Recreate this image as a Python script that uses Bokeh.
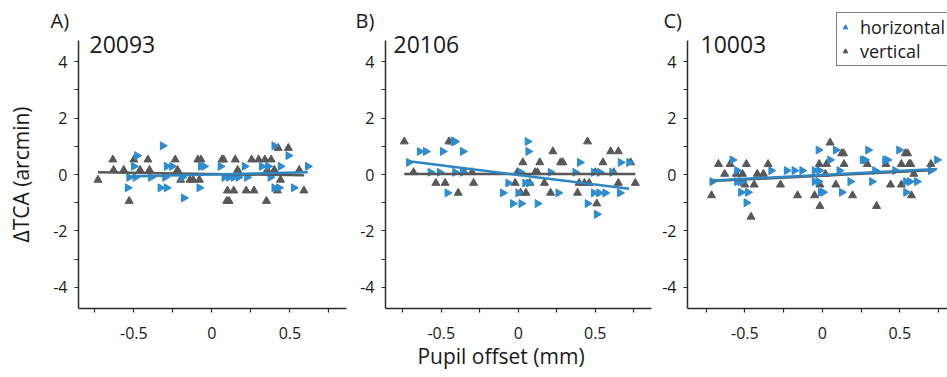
import numpy as np
from bokeh.plotting import figure
from bokeh.models import Range1d, FixedTicker, Label, Legend, LegendItem
from bokeh.layouts import row
from bokeh.embed import file_html
from bokeh.resources import INLINE

# ---------------- data ----------------
panel_letters = ["A)", "B)", "C)"]
subject_ids = ["20093", "20106", "10003"]
series_names = ["horizontal", "vertical"]

x_major = [-0.5, 0, 0.5]
x_minor = [-0.75, -0.25, 0.25, 0.75]
y_major = [-4, -2, 0, 2, 4]
y_minor = [-3, -1, 1, 3]
x_tick_labels = {-0.5: "-0.5", 0: "0", 0.5: "0.5"}
y_tick_labels = {-4: "-4", -2: "-2", 0: "0", 2: "2", 4: "4"}

# Panel A (20093)
a_horz_x = [-0.315, -0.48, -0.50, -0.54, -0.53, -0.49, -0.39, -0.33, -0.29, -0.29, -0.255, -0.30, -0.18,
            -0.07, -0.05, -0.08, 0.055, 0.08, 0.11, 0.14, 0.21, 0.225, 0.32, 0.36, 0.375, 0.40, 0.49,
            0.40, 0.43, 0.44, 0.525, 0.615, -0.19, 0.17]
a_horz_y = [1.02, 0.67, 0.29, -0.47, -0.10, -0.10, -0.10, -0.47, -0.47, 0.29, 0.29, -0.10, -0.83,
            0.29, 0.29, -0.47, 0.29, -0.10, -0.10, -0.10, 0.29, -0.10, 0.29, 0.29, -0.10, 1.02, 0.67,
            -0.47, -0.47, 0.29, -0.47, 0.29, -0.10, -0.10]
a_vert_x = [-0.73, -0.635, -0.63, -0.565, -0.53, -0.50, -0.46, -0.41, -0.40, -0.235, -0.22, -0.20, -0.14,
            -0.12, -0.09, -0.07, -0.08, 0.065, 0.075, 0.095, 0.11, 0.10, 0.14, 0.15, 0.165, 0.22, 0.27,
            0.255, 0.30, 0.34, 0.38, 0.35, 0.355, 0.40, 0.42, 0.425, 0.44, 0.49, 0.56, 0.59]
a_vert_y = [-0.19, 0.53, 0.16, 0.16, -0.94, 0.53, 0.16, 0.53, 0.16, 0.53, 0.16, -0.19, -0.19,
            -0.19, 0.53, 0.53, -0.19, 0.53, 0.53, -0.94, -0.94, -0.57, -0.57, 0.53, 0.16, -0.57, -0.57,
            0.53, 0.53, 0.53, 0.53, -0.94, 0.16, 0.16, -0.57, 0.94, -0.19, 0.94, 0.16, -0.57]
a_horz_fit = [0.13, 0.0]      # slope, intercept
a_vert_fit = [-0.083, 0.02]

# Panel B (20106)
b_horz_x = [-0.71, -0.64, -0.60, -0.57, -0.51, -0.49, -0.42, -0.41, -0.41, -0.36, -0.36, -0.46, -0.065,
            -0.10, -0.035, 0.02, 0.015, 0.06, 0.065, 0.07, 0.125, 0.21, 0.26, 0.37, 0.40, 0.45, 0.49,
            0.525, 0.565, 0.51, 0.53, 0.61, 0.66, 0.665, 0.72, 0.0, 0.045, 0.49]
b_horz_y = [0.43, 0.82, 0.82, 0.08, 0.08, 0.82, 1.17, 1.17, 0.08, 0.82, 0.08, -0.65, -0.30,
            -0.65, -1.03, -1.03, 0.08, 1.17, 0.82, -0.30, -1.03, 0.08, -0.65, 0.08, 0.43, -1.03, -0.65,
            -0.65, -0.65, -1.41, 0.08, 0.08, -0.65, 0.43, 0.43, -0.65, -0.30, 0.08]
b_vert_x = [-0.74, -0.68, -0.535, -0.475, -0.45, -0.43, -0.39, -0.35, -0.30, -0.29, -0.02, -0.005, 0.03,
            0.015, 0.05, 0.075, 0.11, 0.125, 0.14, 0.17, 0.21, 0.225, 0.275, 0.29, 0.385, 0.395, 0.43,
            0.46, 0.45, 0.50, 0.51, 0.55, 0.60, 0.65, 0.62, 0.65, 0.73, 0.76]
b_vert_y = [1.17, 0.08, -0.30, -0.30, 1.17, 1.17, -0.65, 0.08, 0.08, -0.30, -0.30, 0.08, 0.43,
            -0.65, -0.65, -0.30, 0.08, 0.08, 0.43, -0.30, -0.65, 0.82, 0.43, 0.43, -0.65, -0.30, -0.30,
            -0.30, 1.17, 0.08, -1.03, 0.43, 0.82, 0.82, 0.08, -0.30, 0.43, -0.30]
b_horz_fit = [-0.68, -0.013]
b_vert_fit = [0.0, 0.02]

# Panel C (10003)
c_horz_x = [-0.71, -0.58, -0.55, -0.55, -0.53, -0.515, -0.525, -0.48, -0.49, -0.33, -0.23, -0.18, -0.13,
            -0.05, -0.02, -0.05, -0.025, -0.025, -0.01, 0.005, 0.05, 0.087, 0.11, 0.125, 0.18, 0.26,
            0.275, 0.295, 0.32, 0.34, 0.405, 0.42, 0.47, 0.495, 0.54, 0.565, 0.61, 0.54, 0.70, 0.74]
c_horz_y = [-0.25, 0.52, 0.14, -0.25, -0.25, -0.25, -0.63, -0.63, -1.00, 0.14, 0.14, 0.14, 0.14,
            0.14, 0.14, -0.25, -0.25, 0.87, -0.63, -0.63, 0.52, 0.87, 0.14, -0.63, -0.25, 0.52,
            0.52, 0.87, -0.25, 0.14, 0.52, 0.52, 0.14, 0.87, -0.25, -0.25, -0.25, -0.63, 0.14, 0.52]
c_vert_x = [-0.715, -0.67, -0.63, -0.595, -0.555, -0.515, -0.49, -0.50, -0.44, -0.46, -0.42, -0.38, -0.35,
            -0.27, -0.16, -0.05, -0.02, -0.016, -0.016, 0.027, 0.05, 0.087, 0.125, 0.137, 0.14, 0.195,
            0.29, 0.35, 0.41, 0.44, 0.51, 0.51, 0.535, 0.55, 0.56, 0.57, 0.575, 0.59, 0.70, 0.02]
c_vert_y = [-0.74, 0.37, 0.02, 0.37, 0.02, 0.02, 0.37, -0.36, -0.36, -1.50, 0.02, 0.02, 0.37,
            -0.36, -0.74, -0.74, 0.37, -0.36, -1.12, 0.37, 1.13, -0.36, 0.75, 0.75, 0.37, -0.74,
            0.37, -1.12, 0.37, -0.36, 0.37, -0.36, 0.75, 0.75, 0.37, 0.37, -0.74, 0.02, 0.37, 0.02]
c_horz_fit = [0.28, -0.01]
c_vert_fit = [0.27, -0.04]

# ---------------- style / layout ----------------
FONT = "Open Sans"
BLUE = "#2e8ccf"
BLUE_LINE = "#2f86c2"
GRAY = "#585858"
AXIS = "#2b2b2b"
TEXT = "#1a1a1a"

H = 377
BOTTOM = 69                      # space for the x axis below the frame
Y_PX_PER_UNIT = 28.2
Y_BOUNDS = (-4.75, 4.75)         # extent of the drawn y axis
Y_RANGE = (-4.75, -4.75 + (H - BOTTOM) / Y_PX_PER_UNIT)   # frame reaches the top of the canvas


def make_panel(idx, hx, hy, vx, vy, hfit, vfit, x_bounds, width, axis_px, px_per_unit,
               ylabel=False, xlabel=False, legend=False):
    # the frame covers the whole figure width; the y axis sits at x_bounds[0]
    x_start = x_bounds[0] - axis_px / px_per_unit
    x_end = x_start + width / px_per_unit
    p = figure(width=width, height=H, x_range=Range1d(x_start, x_end), y_range=Range1d(*Y_RANGE),
               output_backend="svg", toolbar_location=None, title=None,
               min_border_left=0, min_border_right=0, min_border_top=0, min_border_bottom=BOTTOM)
    p.xgrid.visible = False
    p.ygrid.visible = False
    p.outline_line_color = None

    for ax, major, minor, labels in ((p.xaxis[0], x_major, x_minor, x_tick_labels),
                                     (p.yaxis[0], y_major, y_minor, y_tick_labels)):
        ax.ticker = FixedTicker(ticks=major, minor_ticks=minor)
        ax.major_label_overrides = labels
        ax.axis_line_color = AXIS
        ax.axis_line_width = 1.5
        ax.major_tick_line_color = AXIS
        ax.minor_tick_line_color = AXIS
        ax.major_tick_line_width = 1.2
        ax.minor_tick_line_width = 1.2
        ax.major_tick_in = 0
        ax.major_tick_out = 4
        ax.minor_tick_in = 0
        ax.minor_tick_out = 4
        ax.major_label_text_font = FONT
        ax.major_label_text_font_size = "16px"
        ax.major_label_text_color = TEXT
        ax.major_label_standoff = 7
    p.yaxis.bounds = Y_BOUNDS
    p.yaxis.fixed_location = x_bounds[0]
    p.xaxis.bounds = x_bounds
    p.xaxis.major_label_standoff = 14

    if ylabel:
        p.yaxis.axis_label = "ΔTCA (arcmin)"
        p.yaxis.axis_label_text_font = FONT
        p.yaxis.axis_label_text_font_size = "21px"
        p.yaxis.axis_label_text_font_style = "normal"
        p.yaxis.axis_label_text_color = TEXT
        p.yaxis.axis_label_standoff = 15
    if xlabel:
        p.xaxis.axis_label = "Pupil offset (mm)"
        p.xaxis.axis_label_text_font = FONT
        p.xaxis.axis_label_text_font_size = "21px"
        p.xaxis.axis_label_text_font_style = "normal"
        p.xaxis.axis_label_text_color = TEXT
        p.xaxis.axis_label_standoff = 0

    rv = p.scatter(vx, vy, marker="triangle", size=8, fill_color=GRAY, line_color=GRAY)
    rh = p.scatter(hx, hy, marker="triangle", angle=-np.pi / 2, size=8, fill_color=BLUE, line_color=BLUE)

    vxs = np.array([min(vx), max(vx)])
    p.line(vxs, vfit[0] * vxs + vfit[1], line_color=GRAY, line_width=2.5)
    hxs = np.array([min(hx), max(hx)])
    p.line(hxs, hfit[0] * hxs + hfit[1], line_color=BLUE_LINE, line_width=2.5)

    letter_dx = [50, 7, 10][idx]
    id_dx = [89, 45, 47][idx]
    p.add_layout(Label(x=letter_dx, y=288, x_units="screen", y_units="screen",
                       text=panel_letters[idx], text_font=FONT, text_font_size="20px",
                       text_color=TEXT, text_baseline="alphabetic", text_align="left"))
    p.add_layout(Label(x=id_dx, y=264, x_units="screen", y_units="screen",
                       text=subject_ids[idx], text_font=FONT, text_font_size="23px",
                       text_color=TEXT, text_baseline="alphabetic", text_align="left"))

    if legend:
        lg = Legend(items=[LegendItem(label=series_names[0], renderers=[rh]),
                           LegendItem(label=series_names[1], renderers=[rv])],
                    location=(183, 242))
        lg.label_text_font = FONT
        lg.label_text_font_size = "18px"
        lg.label_text_color = TEXT
        lg.glyph_width = 12
        lg.glyph_height = 16
        lg.label_height = 16
        lg.label_standoff = 9
        lg.spacing = 0
        lg.padding = 2
        lg.margin = 0
        lg.border_line_color = "#000000"
        lg.border_line_width = 1
        lg.background_fill_alpha = 1.0
        p.add_layout(lg, "center")
    return p


pa = make_panel(0, a_horz_x, a_horz_y, a_vert_x, a_vert_y, a_horz_fit, a_vert_fit,
                (-0.855, 0.86), 348, 78, 156.0, ylabel=True)
pb = make_panel(1, b_horz_x, b_horz_y, b_vert_x, b_vert_y, b_horz_fit, b_vert_fit,
                (-0.862, 0.867), 305, 37, 154.0, xlabel=True)
pc = make_panel(2, c_horz_x, c_horz_y, c_vert_x, c_vert_y, c_horz_fit, c_vert_fit,
                (-0.87, 0.81), 294, 34, 155.0, legend=True)

layout = row(pa, pb, pc, spacing=0)
open("out.html", "w").write(file_html(layout, INLINE))
